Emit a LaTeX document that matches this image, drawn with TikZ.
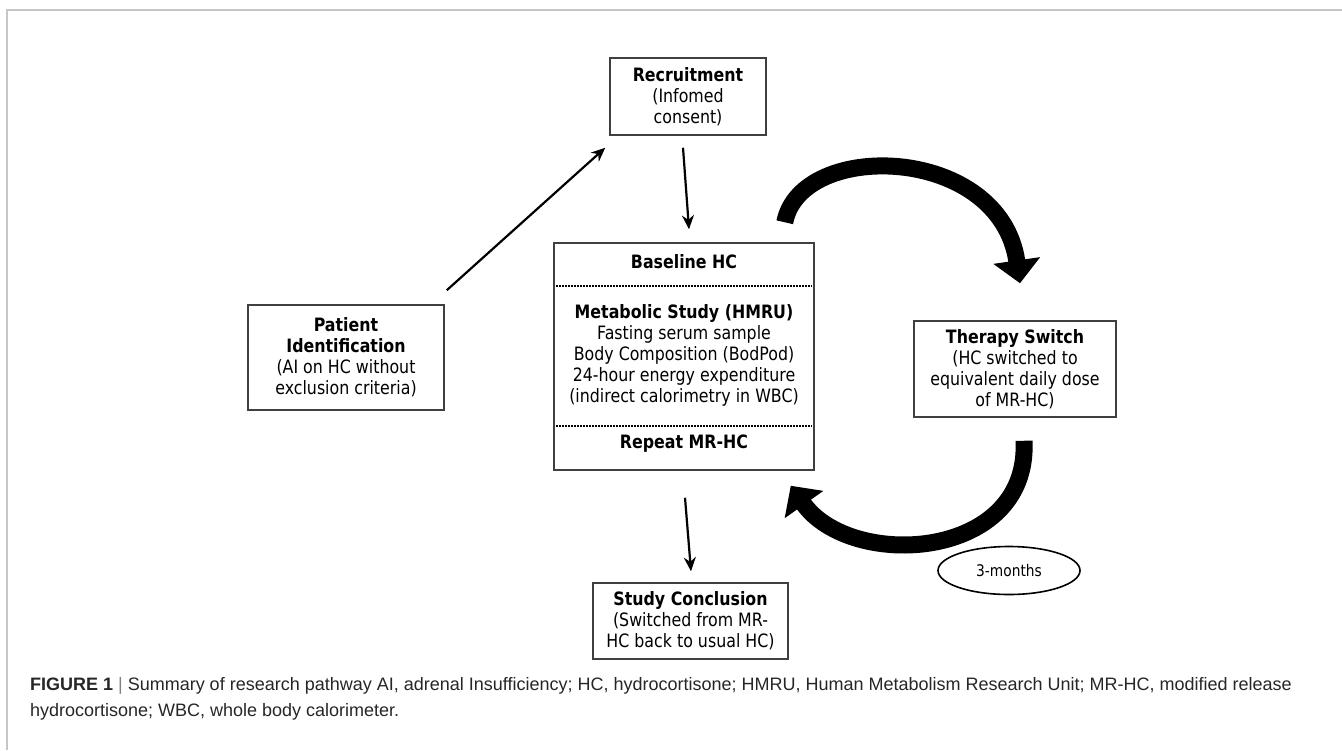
\documentclass[tikz,border=0pt]{standalone}
\usepackage{fontspec}
\setmainfont{DejaVu Sans}[FakeStretch=0.86]
\newfontfamily\capfont{Liberation Sans}
\usetikzlibrary{arrows.meta,shapes.geometric}
\tikzset{box/.style = {draw=black!75, line width=0.75pt, align=center, inner sep=0pt,
                       font=\fontsize{9.2}{10.5}\selectfont},
         txt/.style = {align=center, font=\fontsize{9.2}{10.5}\selectfont},
         arr/.style = {-{Stealth[length=7pt,width=6pt]}, line width=1.1pt},
         bigarr/.style = {line width=8.5pt, -{Triangle[length=11.5pt,width=23pt]}}}

\begin{document}
\begin{tikzpicture}[x=0.5pt,y=-0.5pt]
\useasboundingbox (0,0) rectangle (1342,750);
\draw [gray!45, line width=1pt] (7,750) -- (7,10) -- (1342,10);
\node [box, minimum width=78pt, minimum height=38.5pt] (recruit) at (688,96.5)
  {\textbf{Recruitment}\\(Infomed\\consent)};
\node [box, minimum width=130pt, minimum height=113.5pt] (base) at (684,356.5) {};
\node [txt, font=\fontsize{9.2}{10.5}\selectfont\bfseries] (bhc) at (684,262) {Baseline HC};
\draw [dash pattern=on 0.8pt off 0.7pt, line width=0.8pt] (556,286) -- (812,286);
\node [txt] (meta) at (684,355) {\textbf{Metabolic Study (HMRU)}\\Fasting serum sample\\
  Body Composition (BodPod)\\24-hour energy expenditure\\(indirect calorimetry in WBC)};
\draw [dash pattern=on 0.8pt off 0.7pt, line width=0.8pt] (556,426) -- (812,426);
\node [txt, font=\fontsize{9.2}{10.5}\selectfont\bfseries] (rep) at (684,444) {Repeat MR-HC};
\node [box, minimum width=98pt, minimum height=52.5pt] (patient) at (346,357.5)
  {\textbf{Patient}\\\textbf{Identification}\\(AI on HC without\\exclusion criteria)};
\node [box, minimum width=101pt, minimum height=48pt] (therapy) at (1015,369)
  {\textbf{Therapy Switch}\\(HC switched to\\equivalent daily dose\\of MR-HC)};
\node [box, minimum width=97.5pt, minimum height=38pt] (concl) at (690.5,621)
  {\textbf{Study Conclusion}\\(Switched from MR-\\HC back to usual HC)};
\node [ellipse, draw, line width=0.8pt, minimum width=71pt, minimum height=24pt, inner sep=0pt,
       font=\fontsize{8}{9}\selectfont] (months) at (1009,570.5) {3-months};
\draw [arr] ([shift={(2,-14)}]patient.north east) -- ([shift={(-4,12)}]recruit.south west);
\draw [arr] ([shift={(-5,12)}]recruit.south) -- ([shift={(5,-13)}]base.north);
\draw [arr] ([shift={(1,27)}]base.south) -- ([shift={(0.5,-11)}]concl.north);
\draw [bigarr] ([shift={(-30,-20)}]base.north east) .. controls +(16,-83) and +(-20,-139) ..
  ([shift={(5,-37)}]therapy.north);
\draw [bigarr] ([shift={(9,23)}]therapy.south) .. controls +(6,120) and +(60,85) ..
  ([shift={(-24,15)}]base.south east);
\node [anchor=base west, align=left, text=black!85,
       font=\capfont\fontsize{9}{13}\selectfont] (caption) at (23,716.7)
  {\textbf{FIGURE 1} {\color{black!50}|} Summary of research pathway AI, adrenal Insufficiency; HC, hydrocortisone; HMRU, Human Metabolism Research Unit; MR-HC, modified release\\
   hydrocortisone; WBC, whole body calorimeter.};
\end{tikzpicture}
\end{document}
